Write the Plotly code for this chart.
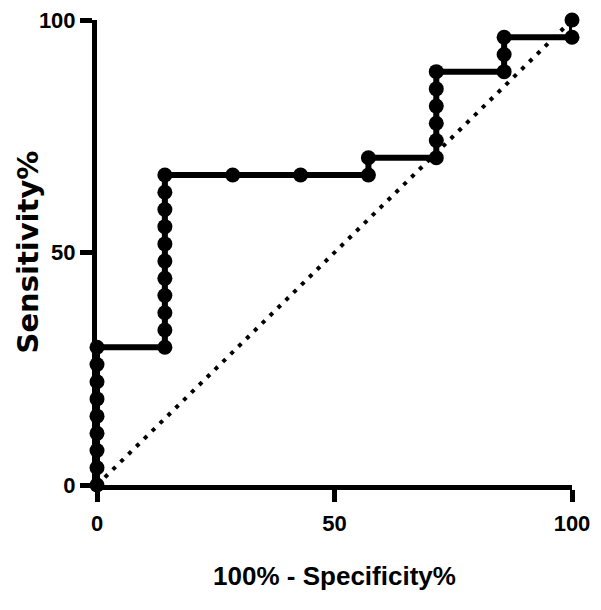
import plotly.graph_objects as go

# ROC curve points: 100% - Specificity% (x) and Sensitivity% (y)
fpr = [0, 0, 0, 0, 0, 0, 0, 0, 0,
       14.29, 14.29, 14.29, 14.29, 14.29, 14.29, 14.29, 14.29, 14.29, 14.29, 14.29,
       28.57, 42.86, 57.14, 57.14,
       71.43, 71.43, 71.43, 71.43, 71.43, 71.43,
       85.71, 85.71, 85.71,
       100, 100]
sens = [0, 3.70, 7.41, 11.11, 14.81, 18.52, 22.22, 25.93, 29.63,
        29.63, 33.33, 37.04, 40.74, 44.44, 48.15, 51.85, 55.56, 59.26, 62.96, 66.67,
        66.67, 66.67, 66.67, 70.37,
        70.37, 74.07, 77.78, 81.48, 85.19, 88.89,
        88.89, 92.59, 96.30,
        96.30, 100]

# line of identity
ref_x = [0, 100]
ref_y = [0, 100]

tick_vals = [0, 50, 100]
tick_text = ["0", "50", "100"]

arial = "Liberation Sans, Arial, sans-serif"

fig = go.Figure()

fig.add_trace(go.Scatter(
    x=ref_x, y=ref_y, mode="lines",
    line=dict(color="black", width=4, dash="4px,7px"),
    cliponaxis=False, hoverinfo="skip", showlegend=False
))

fig.add_trace(go.Scatter(
    x=fpr, y=sens, mode="lines+markers",
    line=dict(color="black", width=6),
    marker=dict(color="black", size=15, symbol="circle"),
    cliponaxis=False, showlegend=False
))

axis_common = dict(
    range=[0, 100],
    tickvals=tick_vals, ticktext=tick_text,
    showgrid=False, zeroline=False,
    showline=True, linecolor="black", linewidth=5,
    ticks="outside", ticklen=12, tickwidth=5, tickcolor="black",
    ticklabeloverflow="allow",
    tickfont=dict(family=arial, size=22, color="black", weight="bold"),
)

fig.update_xaxes(
    **axis_common,
    ticklabelstandoff=3,
    title=dict(text="100% - Specificity%", standoff=33,
               font=dict(family=arial, size=26, color="black", weight="bold")),
)
fig.update_yaxes(**axis_common)

# y title as a rotated annotation so it can sit close to the left edge
fig.add_annotation(
    text="Sensitivity%", textangle=-90,
    xref="paper", yref="paper", x=0, y=0.5,
    xanchor="center", yanchor="middle", xshift=-70, showarrow=False,
    font=dict(family="DejaVu Sans, sans-serif", size=29, color="black", weight="bold"),
)

# page body adds an 8px offset, so the figure is a little smaller than the window
fig.update_layout(
    width=593, height=602,
    margin=dict(l=89, r=29, t=12, b=125, autoexpand=False),
    plot_bgcolor="white", paper_bgcolor="white",
)

fig.write_html("out.html")
